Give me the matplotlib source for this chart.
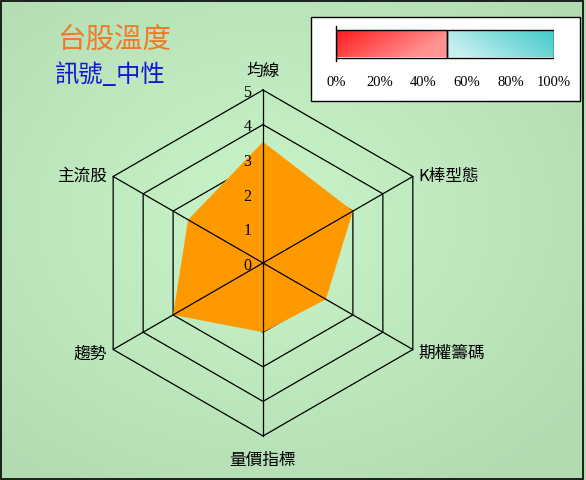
import matplotlib.pyplot as plt
import matplotlib.patches as mpatches
import numpy as np

plt.rcParams['font.family'] = ['Noto Sans CJK TC', 'DejaVu Sans']

# radar data
categories = ['均線', 'K棒型態', '期權籌碼', '量價指標', '趨勢', '主流股']
values = [3.5, 3.0, 2.1, 2.0, 3.0, 2.5]
rings = [1, 2, 3, 4, 5]

# temperature bar data
temp_parts = [51, 49]
pct_ticks = [0, 20, 40, 60, 80, 100]

title_text = '台股溫度'
signal_text = '訊號_中性'

W, H = 586, 480
fig = plt.figure(figsize=(W / 100, H / 100), dpi=100)

# background gradient
bg = fig.add_axes([0, 0, 1, 1])
yy, xx = np.mgrid[0:1:240j, 0:1:293j]
d = np.sqrt(((xx - 0.45) / 0.9) ** 2 + ((yy - 0.45) / 0.9) ** 2)
d = np.clip(d / 0.75, 0, 1)
c_in = np.array([0.79, 0.96, 0.79])
c_out = np.array([0.70, 0.86, 0.70])
img = c_in[None, None, :] * (1 - d[..., None]) + c_out[None, None, :] * d[..., None]
bg.imshow(img, extent=[0, 1, 0, 1], aspect='auto', origin='upper')
bg.set_xlim(0, 1)
bg.set_ylim(0, 1)
bg.axis('off')
bg.add_patch(mpatches.Rectangle((0.002, 0.003), 0.993, 0.994, fill=False,
                                edgecolor='black', lw=1.2, transform=bg.transAxes))

# radar axes
cx, cy, R = 263, 480 - 263, 173.0
unit = R / 5
span = 6
ax = fig.add_axes([(cx - span * unit) / W, (cy - span * unit) / H,
                   2 * span * unit / W, 2 * span * unit / H])
ax.set_xlim(-span, span)
ax.set_ylim(-span, span)
ax.axis('off')

n = len(categories)
ang = np.pi / 2 - np.arange(n) * 2 * np.pi / n
cosa, sina = np.cos(ang), np.sin(ang)

# rings under the filled area, spokes on top
for r in rings:
    ax.plot(np.append(r * cosa, r * cosa[0]), np.append(r * sina, r * sina[0]),
            color='black', lw=0.9, zorder=1)
for i in range(n):
    ax.plot([0, 5 * cosa[i]], [0, 5 * sina[i]], color='black', lw=0.9, zorder=3)

v = np.array(values)
ax.fill(v * cosa, v * sina, color='#FF9900', zorder=2, lw=0)

for r in range(0, 6):
    ax.text(-0.45, r - 0.08, str(r), ha='center', va='center', fontsize=11.5,
            family='Liberation Serif', zorder=4)

lab_pos = [(0, 5.55, 'center'), (4.5, 2.5, 'left'), (4.5, -2.62, 'left'),
           (0, -5.7, 'center'), (-4.5, -2.62, 'right'), (-4.5, 2.5, 'right')]
for (lx, ly, ha), name in zip(lab_pos, categories):
    ax.text(lx, ly, name, ha=ha, va='center', fontsize=12)

# titles
fig.text(57 / W, 1 - 40 / H, title_text, color='#F07A28', fontsize=20.5, va='center')
fig.text(55 / W, 1 - 75 / H, signal_text, color='#1515D5', fontsize=17.5,
         va='center', weight='medium')

# temperature legend box
bg.add_patch(mpatches.Rectangle((311 / W, 1 - 101 / H), 269 / W, 84 / H,
                                facecolor='white', edgecolor='black', lw=1,
                                transform=bg.transAxes, zorder=5))

bx = fig.add_axes([336 / W, 1 - 61 / H, 218 / W, 35 / H])
bx.set_xlim(0, 100)
bx.set_ylim(-0.5, 0.5)
bx.patch.set_visible(False)
for s in ['top', 'right', 'bottom']:
    bx.spines[s].set_visible(False)
bx.spines['left'].set_linewidth(1)
bx.set_yticks([])

left = 0
grads = [(np.array([1.0, 0.1, 0.1]), np.array([1.0, 0.58, 0.58])),
         (np.array([0.78, 0.94, 0.94]), np.array([0.30, 0.80, 0.80]))]
for part, (ca, cb) in zip(temp_parts, grads):
    rect = bx.barh(0, part, left=left, height=0.8, color='none',
                   edgecolor='black', lw=1, zorder=3)[0]
    gy, gx = np.mgrid[0:1:20j, 0:1:60j]
    if left == 0:
        t = np.clip(gx * 0.9 + gy * 0.35, 0, 1)
    else:
        t = np.clip(gx * 0.9 - gy * 0.35 + 0.2, 0, 1)
    g = ca[None, None, :] * (1 - t[..., None]) + cb[None, None, :] * t[..., None]
    im = bx.imshow(g, extent=[left, left + part, -0.4, 0.4], aspect='auto',
                   origin='upper', zorder=2)
    im.set_clip_path(rect)
    left += part

bx.set_xticks(pct_ticks)
bx.set_xticklabels([f'{p}%' for p in pct_ticks], family='Liberation Serif', fontsize=10.5)
bx.tick_params(axis='x', length=0, pad=11)

fig.savefig('out.png', dpi=100)
